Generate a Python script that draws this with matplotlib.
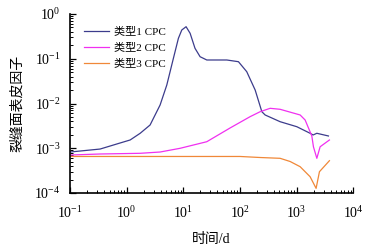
import matplotlib
matplotlib.use('Agg')
import matplotlib.pyplot as plt
from matplotlib.ticker import LogLocator, NullFormatter

plt.rcParams['font.family'] = ['Liberation Serif', 'Noto Sans CJK SC']
plt.rcParams['mathtext.fontset'] = 'stix'

# 类型1 CPC
t1 = [0.1, 0.339, 0.764, 1.15, 1.73, 2.59, 3.89, 5.11, 6.68, 8.19, 9.40, 11.2, 13.2, 16.1, 19.8,
      26.0, 58.7, 94.2, 132, 186, 244, 279, 513, 1012, 1738, 1963, 2285, 3664]
s1 = [8.24e-4, 9.6e-4, 1.31e-3, 1.53e-3, 2.16e-3, 3.31e-3, 9.25e-3, 0.0259, 0.102, 0.286, 0.439,
      0.520, 0.370, 0.171, 0.111, 0.0938, 0.0938, 0.0859, 0.0514, 0.0200, 6.56e-3, 5.54e-3,
      3.92e-3, 3.03e-3, 2.16e-3, 1.98e-3, 2.16e-3, 1.88e-3]
# 类型2 CPC
t2 = [0.1, 0.339, 1.73, 3.89, 8.77, 26.0, 67.1, 151, 228, 342, 513, 1159, 1419, 1864, 1990,
      2285, 2613, 3813]
s2 = [7.06e-4, 7.44e-4, 7.71e-4, 8.24e-4, 9.97e-4, 1.40e-3, 2.84e-3, 5.07e-3, 6.56e-3, 7.81e-3,
      7.42e-3, 5.54e-3, 4.28e-3, 1.88e-3, 1.08e-3, 5.96e-4, 1.08e-3, 1.53e-3]
# 类型3 CPC
t3 = [0.1, 19.8, 101, 228, 513, 771, 1159, 1738, 2218, 2541, 3813]
s3 = [6.55e-4, 6.55e-4, 6.55e-4, 6.21e-4, 5.96e-4, 5.06e-4, 3.87e-4, 2.31e-4, 1.27e-4, 2.99e-4,
      5.27e-4]

labels = ['类型1 CPC', '类型2 CPC', '类型3 CPC']
colors = ['#3c3c8c', '#f030f0', '#f08838']

fig = plt.figure(figsize=(3.83, 2.5), dpi=100)
ax = fig.add_axes([0.183, 0.228, 0.739, 0.716])

for t, s, lab, c in zip([t1, t2, t3], [s1, s2, s3], labels, colors):
    ax.plot(t, s, color=c, lw=0.9, label=lab)

ax.set_xscale('log')
ax.set_yscale('log')
ax.set_xlim(0.1, 1e4)
ax.set_ylim(1e-4, 1)

ax.xaxis.set_minor_locator(LogLocator(base=10, subs=range(2, 10), numticks=20))
ax.yaxis.set_minor_locator(LogLocator(base=10, subs=range(2, 10), numticks=20))
ax.xaxis.set_minor_formatter(NullFormatter())
ax.yaxis.set_minor_formatter(NullFormatter())

ax.spines['top'].set_visible(False)
ax.spines['right'].set_visible(False)
ax.spines['left'].set_linewidth(1.2)
ax.spines['bottom'].set_linewidth(1.2)
ax.tick_params(which='major', direction='in', length=4, width=0.9, labelsize=10)
ax.tick_params(axis='x', which='major', pad=9)
ax.tick_params(axis='y', which='major', pad=7)
ax.tick_params(which='minor', direction='in', length=2.5, width=0.7)

ax.set_xlabel('时间/d', fontsize=10, labelpad=8)
ax.set_ylabel('裂缝面表皮因子', fontsize=10, labelpad=7)

ax.legend(frameon=False, loc='upper left', bbox_to_anchor=(0.015, 0.985), fontsize=8,
          handlelength=2.2, labelspacing=0.55, handletextpad=0.5)

fig.savefig('out.png', dpi=100)
